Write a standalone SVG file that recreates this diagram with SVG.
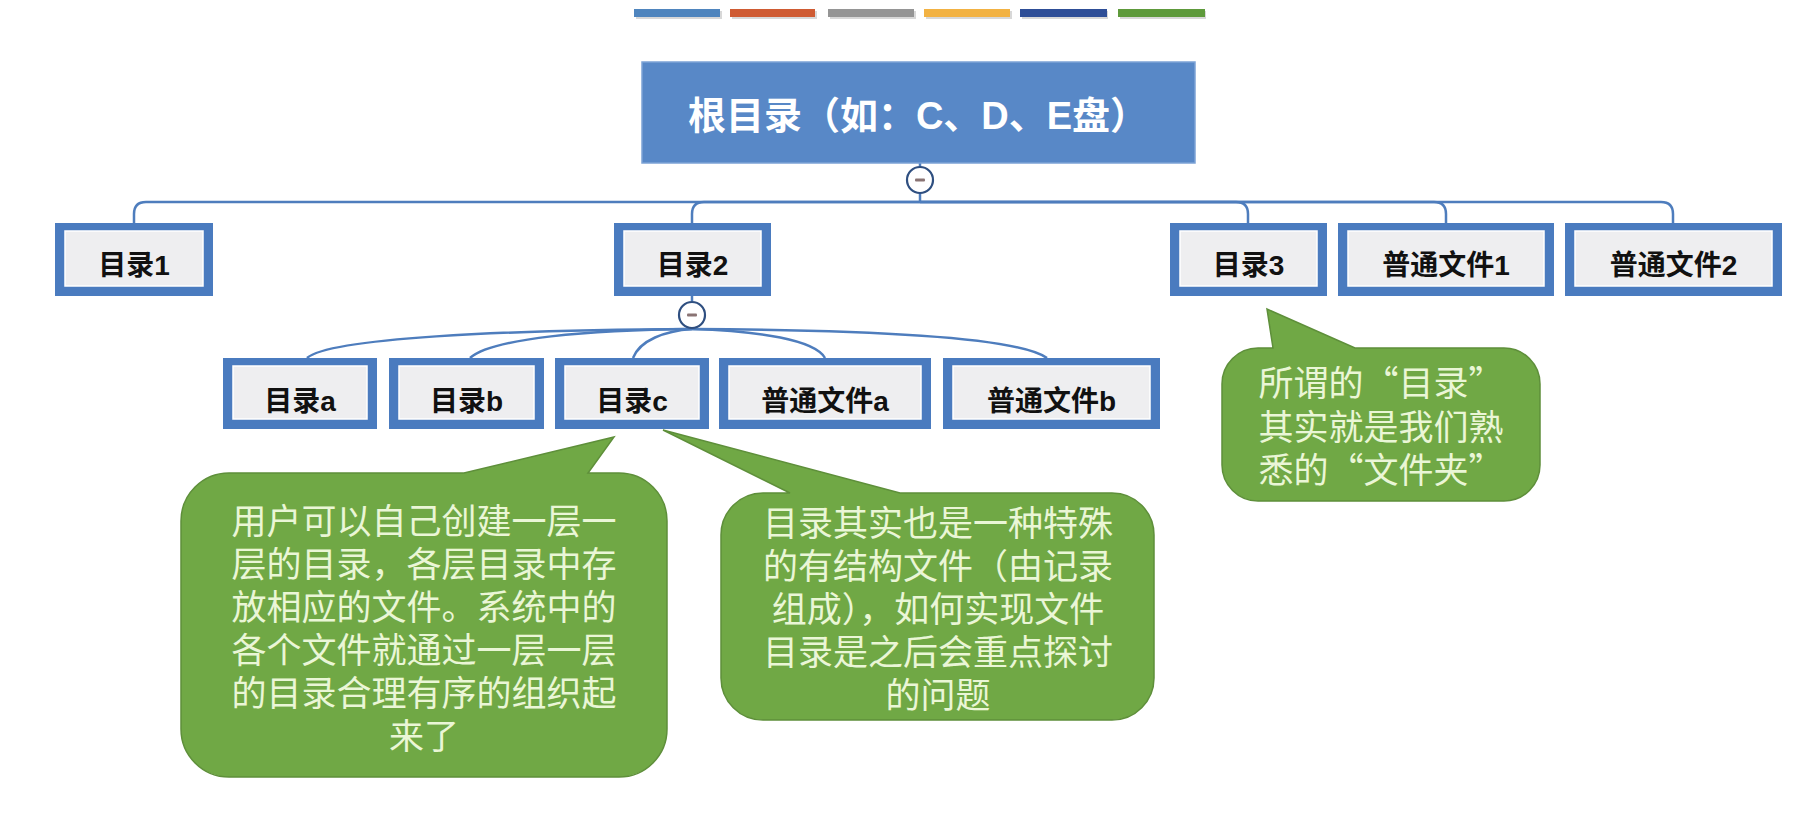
<svg xmlns="http://www.w3.org/2000/svg" width="1797" height="824" viewBox="0 0 1797 824">
<defs>
<style>
.bar{stroke:none}
.box-outer{fill:#4A7BBF}
.box-inner{fill:#EEEEF0;stroke:#FFFFFF;stroke-width:1.5}
.lbl{font-family:"Liberation Sans","Noto Sans CJK SC",sans-serif;font-weight:bold;font-size:28px;fill:#111111;text-anchor:middle}
.root-txt{font-family:"Liberation Sans","Noto Sans CJK SC",sans-serif;font-weight:bold;font-size:38px;fill:#FFFFFF;text-anchor:middle}
.conn{fill:none;stroke:#4E7DBD;stroke-width:2.5}
.toggle{fill:#FFFFFF;stroke:#2F4F80;stroke-width:2.2}
.minus{fill:#8A7474}
.callout{fill:#70A845;stroke:#5E8F3A;stroke-width:1.5}
.ctxt{font-family:"Noto Sans CJK SC",sans-serif;font-weight:400;font-size:35px;fill:#EAF6D6;text-anchor:middle}
</style>
</defs>
<rect x="0" y="0" width="1797" height="824" fill="#FFFFFF"/>

<g id="color-bars">
<rect x="636" y="11" width="86" height="8" fill="#D8D8D8"/>
<rect x="732" y="11" width="85" height="8" fill="#D8D8D8"/>
<rect x="830" y="11" width="86" height="8" fill="#D8D8D8"/>
<rect x="926" y="11" width="86" height="8" fill="#D8D8D8"/>
<rect x="1022" y="11" width="86" height="8" fill="#D8D8D8"/>
<rect x="1120" y="11" width="86" height="8" fill="#D8D8D8"/>
<rect class="bar" x="634" y="9" width="86" height="8" fill="#4F85BE"/>
<rect class="bar" x="730" y="9" width="85" height="8" fill="#CF5B33"/>
<rect class="bar" x="828" y="9" width="86" height="8" fill="#959595"/>
<rect class="bar" x="924" y="9" width="86" height="8" fill="#F2B243"/>
<rect class="bar" x="1020" y="9" width="87" height="8" fill="#2E4E97"/>
<rect class="bar" x="1118" y="9" width="87" height="8" fill="#5E9A3B"/>
</g>

<g id="connectors">
<line class="conn" x1="920" y1="163" x2="920" y2="167"/>
<line class="conn" x1="920" y1="193" x2="920" y2="202"/>
<path class="conn" d="M920,202 L146,202 Q134,202 134,214 L134,223"/>
<path class="conn" d="M920,202 L704,202 Q692,202 692,214 L692,223"/>
<path class="conn" d="M920,202 L1236,202 Q1248,202 1248,214 L1248,223"/>
<path class="conn" d="M920,202 L1434,202 Q1446,202 1446,214 L1446,223"/>
<path class="conn" d="M920,202 L1661,202 Q1673,202 1673,214 L1673,223"/>
<line class="conn" x1="692" y1="296" x2="692" y2="301"/>
<path class="conn" d="M692,329 C500,330 330,338 307,358"/>
<path class="conn" d="M692,329 C590,330 492,338 470,358"/>
<path class="conn" d="M692,329 C665,331 640,340 633,358"/>
<path class="conn" d="M692,329 C760,331 815,340 825,358"/>
<path class="conn" d="M692,329 C880,330 1020,338 1047,358"/>
</g>

<g id="toggle-root">
<circle class="toggle" cx="920" cy="180" r="13"/>
<rect class="minus" x="915" y="178.5" width="10" height="3" rx="1"/>
</g>
<g id="toggle-dir2">
<circle class="toggle" cx="692" cy="315" r="13"/>
<rect class="minus" x="687" y="313.5" width="10" height="3" rx="1"/>
</g>

<g id="root">
<rect x="642" y="62" width="553" height="101" fill="#5888C7" stroke="#7CA3D6" stroke-width="1.5"/>
<text class="root-txt" x="918" y="129">根目录（如：C、D、E盘）</text>
</g>

<g id="dir1">
<rect class="box-outer" x="55" y="223" width="158" height="73"/>
<rect class="box-inner" x="65" y="231" width="138" height="55"/>
<text class="lbl" x="134" y="275">目录1</text>
</g>
<g id="dir2">
<rect class="box-outer" x="614" y="223" width="157" height="73"/>
<rect class="box-inner" x="624" y="231" width="137" height="55"/>
<text class="lbl" x="692.5" y="275">目录2</text>
</g>
<g id="dir3">
<rect class="box-outer" x="1170" y="223" width="157" height="73"/>
<rect class="box-inner" x="1180" y="231" width="137" height="55"/>
<text class="lbl" x="1248.5" y="275">目录3</text>
</g>
<g id="file1">
<rect class="box-outer" x="1338" y="223" width="216" height="73"/>
<rect class="box-inner" x="1348" y="231" width="196" height="55"/>
<text class="lbl" x="1446" y="275">普通文件1</text>
</g>
<g id="file2">
<rect class="box-outer" x="1565" y="223" width="217" height="73"/>
<rect class="box-inner" x="1575" y="231" width="197" height="55"/>
<text class="lbl" x="1673.5" y="275">普通文件2</text>
</g>

<g id="dira">
<rect class="box-outer" x="223" y="358" width="154" height="71"/>
<rect class="box-inner" x="233" y="366" width="134" height="53"/>
<text class="lbl" x="300" y="411">目录a</text>
</g>
<g id="dirb">
<rect class="box-outer" x="389" y="358" width="155" height="71"/>
<rect class="box-inner" x="399" y="366" width="135" height="53"/>
<text class="lbl" x="466.5" y="411">目录b</text>
</g>
<g id="dirc">
<rect class="box-outer" x="555" y="358" width="154" height="71"/>
<rect class="box-inner" x="565" y="366" width="134" height="53"/>
<text class="lbl" x="632" y="411">目录c</text>
</g>
<g id="filea">
<rect class="box-outer" x="719" y="358" width="212" height="71"/>
<rect class="box-inner" x="729" y="366" width="192" height="53"/>
<text class="lbl" x="825" y="411">普通文件a</text>
</g>
<g id="fileb">
<rect class="box-outer" x="943" y="358" width="217" height="71"/>
<rect class="box-inner" x="953" y="366" width="197" height="53"/>
<text class="lbl" x="1051.5" y="411">普通文件b</text>
</g>

<g id="callout-dir3">
<path class="callout" d="M1258,348 L1273,348 L1267,309 L1355,348 L1504,348 A36,36 0 0 1 1540,384 L1540,465 A36,36 0 0 1 1504,501 L1258,501 A36,36 0 0 1 1222,465 L1222,384 A36,36 0 0 1 1258,348 Z"/>
<text class="ctxt" x="1381" y="396">所谓的“目录”</text>
<text class="ctxt" x="1381" y="440">其实就是我们熟</text>
<text class="ctxt" x="1381" y="483">悉的“文件夹”</text>
</g>

<g id="callout-user">
<path class="callout" d="M229,473 L464,473 L614,437 L588,473 L619,473 A48,48 0 0 1 667,521 L667,729 A48,48 0 0 1 619,777 L229,777 A48,48 0 0 1 181,729 L181,521 A48,48 0 0 1 229,473 Z"/>
<text class="ctxt" x="424" y="534">用户可以自己创建一层一</text>
<text class="ctxt" x="424" y="577">层的目录，各层目录中存</text>
<text class="ctxt" x="424" y="620">放相应的文件。系统中的</text>
<text class="ctxt" x="424" y="663">各个文件就通过一层一层</text>
<text class="ctxt" x="424" y="706">的目录合理有序的组织起</text>
<text class="ctxt" x="424" y="749">来了</text>
</g>

<g id="callout-dirfile">
<path class="callout" d="M763,493 L790,493 L663,430 L900,493 L1112,493 A42,42 0 0 1 1154,535 L1154,678 A42,42 0 0 1 1112,720 L763,720 A42,42 0 0 1 721,678 L721,535 A42,42 0 0 1 763,493 Z"/>
<text class="ctxt" x="938" y="536">目录其实也是一种特殊</text>
<text class="ctxt" x="938" y="579">的有结构文件（由记录</text>
<text class="ctxt" x="938" y="622">组成），如何实现文件</text>
<text class="ctxt" x="938" y="665">目录是之后会重点探讨</text>
<text class="ctxt" x="938" y="708">的问题</text>
</g>
</svg>
